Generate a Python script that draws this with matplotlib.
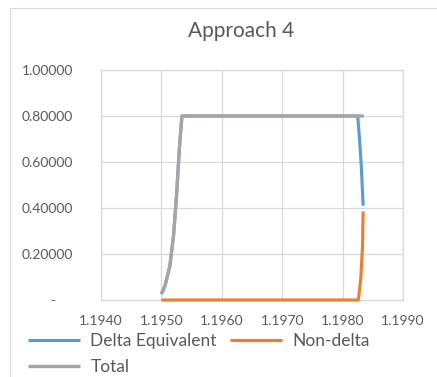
import matplotlib
matplotlib.use("Agg")
import matplotlib.pyplot as plt
from matplotlib.patches import Rectangle
from matplotlib.ticker import FuncFormatter

plt.rcParams["font.family"] = ["Lato", "DejaVu Sans"]

# series read along the price axis
x_total = [1.19500, 1.19506, 1.19514, 1.19520, 1.19525, 1.19530, 1.19534,
           1.19600, 1.19700, 1.19800, 1.19826, 1.19835]
total = [0.026, 0.062, 0.148, 0.278, 0.452, 0.668, 0.800,
         0.800, 0.800, 0.800, 0.800, 0.800]

x_delta = [1.19500, 1.19506, 1.19514, 1.19520, 1.19525, 1.19530, 1.19534,
           1.19600, 1.19700, 1.19800, 1.19825, 1.19828, 1.19831, 1.19834]
delta_equiv = [0.026, 0.062, 0.148, 0.278, 0.452, 0.668, 0.800,
               0.800, 0.800, 0.800, 0.800, 0.700, 0.580, 0.410]

x_nondelta = [1.19500, 1.19826, 1.19830, 1.19833, 1.19834]
non_delta = [0.0, 0.0, 0.090, 0.235, 0.385]

x_ticks = [1.1940, 1.1950, 1.1960, 1.1970, 1.1980, 1.1990]
y_ticks = [0.0, 0.2, 0.4, 0.6, 0.8, 1.0]

BLUE = "#5B9BD5"
ORANGE = "#ED7D31"
GRAY = "#A5A5A5"
GRID = "#D9D9D9"
TEXT = "#595959"

fig = plt.figure(figsize=(4.37, 3.77), dpi=100)
fig.patches.append(Rectangle((10 / 437, -0.01), 1.0, 1 - 8 / 377 + 0.01,
                             transform=fig.transFigure, fill=False,
                             edgecolor="#D9D9D9", linewidth=0.8))

ax = fig.add_axes([101 / 437, 1 - 300 / 377, 302 / 437, 230 / 377])
ax.plot(x_delta, delta_equiv, color=BLUE, linewidth=2.25, zorder=3,
        solid_capstyle="butt", clip_on=False, label="Delta Equivalent")
ax.plot(x_nondelta, non_delta, color=ORANGE, linewidth=2.25, zorder=3,
        solid_capstyle="butt", clip_on=False, label="Non-delta")
ax.plot(x_total, total, color=GRAY, linewidth=2.4, zorder=3,
        solid_capstyle="butt", clip_on=False, label="Total")

ax.set_xlim(x_ticks[0], x_ticks[-1])
ax.set_ylim(y_ticks[0], y_ticks[-1])
ax.set_xticks(x_ticks)
ax.set_yticks(y_ticks)
ax.xaxis.set_major_formatter(FuncFormatter(lambda v, p: f"{v:.4f}"))
ax.yaxis.set_major_formatter(
    FuncFormatter(lambda v, p: "-     " if abs(v) < 1e-9 else f"{v:.5f}"))
ax.tick_params(length=0, labelsize=10, labelcolor=TEXT)
ax.tick_params(axis="y", pad=20)
ax.tick_params(axis="x", pad=11)
ax.grid(True, color=GRID, linewidth=0.9)
ax.set_axisbelow(True)
for s in ax.spines.values():
    s.set_color(GRID)
    s.set_linewidth(0.9)

fig.text(241 / 437, 1 - 31 / 377, "Approach 4", ha="center", va="center",
         fontsize=15, color=TEXT)

h = {ln.get_label(): ln for ln in ax.get_lines()}
handles = [h["Delta Equivalent"], h["Total"], h["Non-delta"]]
fig.legend(handles, [x.get_label() for x in handles], ncol=2, frameon=False,
           loc="lower left", bbox_to_anchor=(14 / 437, -12 / 377),
           fontsize=12.5, labelcolor=TEXT, handlelength=3.0, handletextpad=0.6,
           columnspacing=0.75, labelspacing=0.6, borderpad=0.3)

fig.savefig("out.png", dpi=100)
